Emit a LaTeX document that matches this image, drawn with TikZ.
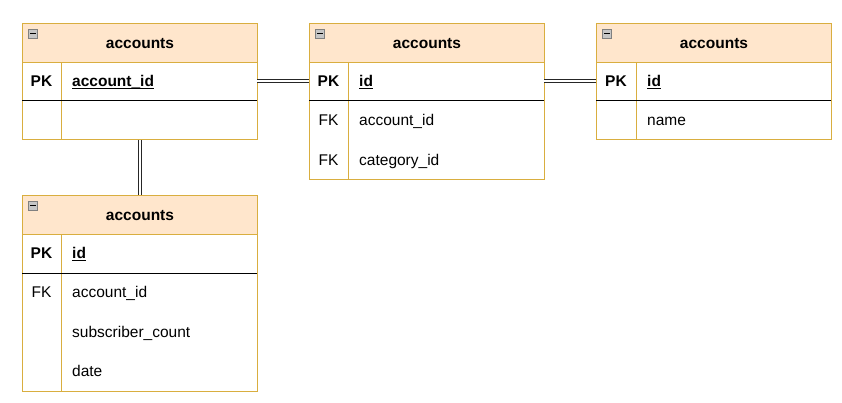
\documentclass[tikz,border=0pt]{standalone}
\usepackage{fontspec}
\setmainfont{Liberation Sans}
\usetikzlibrary{positioning}
\definecolor{hdrfill}{HTML}{FFE6CC}
\definecolor{hdrline}{HTML}{D9AE3F}
\newcommand{\keyfield}[1]{\underline{\smash{#1}}}

\begin{document}
\begin{tikzpicture}[x=1pt,y=-1pt,
  font=\fontsize{15.5}{18}\selectfont,
  head/.style={draw=hdrline,line width=1pt,fill=hdrfill,minimum width=235pt,minimum height=39pt,inner sep=0pt,
    text height=11.1pt,text depth=0pt,font=\fontsize{15.5}{18}\selectfont\bfseries},
  body/.style={draw=hdrline,line width=1pt,fill=white,minimum width=235pt,inner sep=0pt},
  row/.style={minimum width=235pt,minimum height=38pt,inner sep=0pt},
  tag/.style={inner sep=0pt,text height=11.1pt,text depth=0pt},
  field/.style={anchor=west,inner sep=0pt,text height=11.1pt,text depth=0pt},
  toggle/.style={draw=gray,fill=gray!45,minimum size=9pt,inner sep=0pt,
    path picture={\draw[black,line width=0.9pt] ([xshift=1.5pt]path picture bounding box.west) -- ([xshift=-1.5pt]path picture bounding box.east);}},
  link/.style={draw=black!85,line width=0.7pt,double=white,double distance=2.2pt}]
\useasboundingbox (0,0) rectangle (842,402);

% left table
\node[head,anchor=north west] (acc) at (22,23) {accounts};
\node[body,minimum height=77pt,anchor=north west] (accbody) at (22,62) {};
\node[row,anchor=north west] (accpk) at (22,62) {};
\draw[hdrline,line width=1pt] (61,62) -- (61,139);
\draw[line width=0.9pt] (22,100) -- (257,100);
\node[tag,font=\fontsize{15.5}{18}\selectfont\bfseries] (accpkt) at (41.5,81) {PK};
\node[field] (accid) at (72,81) {\bfseries\keyfield{account\_id}};
\node[toggle] (acctog) at (33,33.5) {};

% middle table
\node[head,anchor=north west] (map) at (309,23) {accounts};
\node[body,minimum height=117pt,anchor=north west] (mapbody) at (309,62) {};
\node[row,anchor=north west] (mappk) at (309,62) {};
\draw[hdrline,line width=1pt] (348,62) -- (348,179);
\draw[line width=0.9pt] (309,100) -- (544,100);
\node[tag,font=\fontsize{15.5}{18}\selectfont\bfseries] (mappkt) at (328.5,81) {PK};
\node[field] (mapid) at (359,81) {\bfseries\keyfield{id}};
\node[tag] (mapfka) at (328.5,120) {FK};
\node[field] (mapacc) at (359,120) {account\_id};
\node[tag] (mapfkb) at (328.5,160) {FK};
\node[field] (mapcat) at (359,160) {category\_id};
\node[toggle] (maptog) at (320,33.5) {};

% right table
\node[head,anchor=north west] (cat) at (596,23) {accounts};
\node[body,minimum height=77pt,anchor=north west] (catbody) at (596,62) {};
\node[row,anchor=north west] (catpk) at (596,62) {};
\draw[hdrline,line width=1pt] (636,62) -- (636,139);
\draw[line width=0.9pt] (596,100) -- (831,100);
\node[tag,font=\fontsize{15.5}{18}\selectfont\bfseries] (catpkt) at (616,81) {PK};
\node[field] (catid) at (647,81) {\bfseries\keyfield{id}};
\node[field] (catname) at (647,120) {name};
\node[toggle] (cattog) at (607,33.5) {};

% bottom table
\node[head,anchor=north west] (subs) at (22,195) {accounts};
\node[body,minimum height=157pt,anchor=north west] (subsbody) at (22,234) {};
\draw[hdrline,line width=1pt] (61,234) -- (61,391);
\draw[line width=0.9pt] (22,273) -- (257,273);
\node[tag,font=\fontsize{15.5}{18}\selectfont\bfseries] (subspkt) at (41.5,253) {PK};
\node[field] (subsid) at (72,253) {\bfseries\keyfield{id}};
\node[tag] (subsfk) at (41.5,292) {FK};
\node[field] (subsacc) at (72,292) {account\_id};
\node[field] (subscnt) at (72,332) {subscriber\_count};
\node[field] (subsdate) at (72,371) {date};
\node[toggle] (substog) at (33,205.5) {};

\path[link] (accpk.east) -- (mappk.west);
\path[link] (mappk.east) -- (catpk.west);
\path[link] (accbody.south) -- (subs.north);
\end{tikzpicture}
\end{document}
